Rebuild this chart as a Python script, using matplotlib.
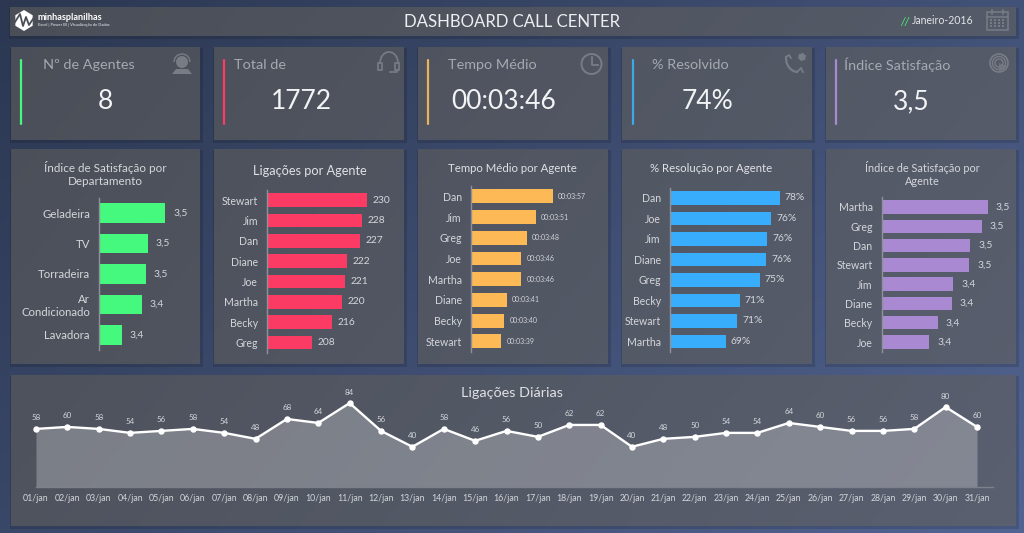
import numpy as np
import matplotlib
matplotlib.use("Agg")
import matplotlib.pyplot as plt
from matplotlib.patches import Circle, Rectangle, Polygon, Wedge, Arc

plt.rcParams['font.family'] = ['Lato', 'DejaVu Sans']

W, H = 1024, 533

# ---------- data ----------
kpi_titles = ['Nº de Agentes', 'Total de', 'Tempo Médio', '% Resolvido', 'Índice Satisfação']
kpi_values = ['8', '1772', '00:03:46', '74%', '3,5']

dept_names = ['Geladeira', 'TV', 'Torradeira', 'Ar\nCondicionado', 'Lavadora']
dept_values = [3.505, 3.462, 3.457, 3.447, 3.397]

calls_names = ['Stewart', 'Jim', 'Dan', 'Diane', 'Joe', 'Martha', 'Becky', 'Greg']
calls_values = [230, 228, 227, 222, 221, 220, 216, 208]

time_names = ['Dan', 'Jim', 'Greg', 'Joe', 'Martha', 'Diane', 'Becky', 'Stewart']
time_values = [237, 231, 228, 226, 226, 221, 220, 219]

res_names = ['Dan', 'Joe', 'Jim', 'Diane', 'Greg', 'Becky', 'Stewart', 'Martha']
res_values = [77.8, 76.4, 75.8, 75.6, 74.6, 71.4, 71.0, 69.2]

sat_names = ['Martha', 'Greg', 'Dan', 'Stewart', 'Jim', 'Diane', 'Becky', 'Joe']
sat_values = [3.515, 3.501, 3.472, 3.469, 3.429, 3.425, 3.391, 3.369]

day_labels = [f'{d:02d}/jan' for d in range(1, 32)]
day_values = [58, 60, 58, 54, 56, 58, 54, 48, 68, 64, 84, 56, 40, 58, 46, 56,
              50, 62, 62, 40, 48, 50, 54, 54, 64, 60, 56, 56, 58, 80, 60]

# ---------- colours ----------
GREEN, RED, YELLOW, BLUE, PURPLE = '#45f97f', '#fb3b63', '#fdb955', '#38adfb', '#a98ad2'
TXT = '#d4d6da'
TITLE = '#dfe1e4'
KPI_T = '#a6a9b0'
ICON = '#787c85'

# ---------- background as one painted image ----------
yy, xx = np.mgrid[0:H, 0:W]
t = np.clip((xx / W * 0.62 + yy / H * 0.38), 0, 1)[..., None]
c0, c1 = np.array([0x2c, 0x38, 0x52]), np.array([0x52, 0x64, 0x92])
img = c0 + (c1 - c0) * t ** 1.1


def panel(x0, y0, x1, y1):
    s = img[y0 + 1:y1 + 3, x0 - 1:x1 + 3]
    s[:] = s * 0.86
    u = (xx[y0:y1, x0:x1] / W * 0.7 + yy[y0:y1, x0:x1] / H * 0.3)[..., None]
    a, b = np.array([0x4a, 0x4e, 0x57]), np.array([0x5a, 0x60, 0x70])
    img[y0:y1, x0:x1] = a + (b - a) * u


panel(10, 7, 1016, 36)
kpi_x = [(11, 200), (214, 404), (418, 608), (622, 812), (826, 1016)]
for a, b in kpi_x:
    panel(a, 47, b, 140)
    panel(a, 149, b, 364)
panel(11, 375, 1016, 526)

fig = plt.figure(figsize=(W / 100, H / 100), dpi=100)
bg = fig.add_axes([0, 0, 1, 1], zorder=0)
bg.imshow(img.astype(np.uint8), extent=(0, W, H, 0), aspect='auto', interpolation='bilinear')
bg.set_xlim(0, W)
bg.set_ylim(H, 0)
bg.axis('off')

# ---------- header ----------
bg.text(512, 22, 'DASHBOARD CALL CENTER', color='#eceef0', fontsize=12.1, ha='center', va='center')
bg.text(900, 21, '//', color=GREEN, fontsize=8, ha='left', va='center', style='italic')
bg.text(912, 21, 'Janeiro-2016', color='#e2e4e7', fontsize=7.6, ha='left', va='center')

# logo
hx = 24 + 10 * np.sin(np.linspace(0, 2 * np.pi, 7))
hy = 20.5 + 10.5 * np.cos(np.linspace(0, 2 * np.pi, 7))
bg.add_patch(Polygon(np.c_[hx, hy], closed=True, fc='white', ec='none'))
bg.plot([15, 20, 23, 26, 29, 33], [22, 14, 26, 17, 25, 19], color='#4a4e58', lw=1.3)
bg.text(38, 17, 'minhasplanilhas', color='white', fontsize=6.6, fontweight='bold', ha='left', va='center')
bg.text(38, 24.6, 'Excel | Power BI | Visualização de Dados', color='#c9cbd0', fontsize=2.9,
        fontweight='bold', ha='left', va='center')

# ---------- KPI cards ----------
accent_x = [21, 224, 428, 632.5, 835.5]
accent_c = [GREEN, RED, '#e8b45a', '#3fa9e6', '#a98ad2']
title_x = [43, 234, 448, 652, 844]
value_x = [105, 301, 503.5, 707.7, 911]
for tt, vv, ax_, ac, tx, vx in zip(kpi_titles, kpi_values, accent_x, accent_c, title_x, value_x):
    bg.plot([ax_, ax_], [59.5, 124], color=ac, lw=1.6, solid_capstyle='round')
    bg.text(tx, 65, tt, color=KPI_T, fontsize=10.4, ha='left', va='center')
    bg.text(vx, 101.5, vv, color='#f2f3f5', fontsize=19, ha='center', va='center')

# agent icon
bg.add_patch(Circle((182, 62), 6, fc=ICON, ec='none'))
bg.add_patch(Arc((182, 62), 16, 16, theta1=180, theta2=360, ec=ICON, lw=1))
bg.add_patch(Polygon([(172, 74), (176, 69), (188, 69), (192, 74)], fc=ICON, ec='none'))
# headset icon
bg.add_patch(Arc((389, 63), 18, 22, theta1=180, theta2=360, ec=ICON, lw=1.2))
bg.add_patch(Rectangle((378, 63), 4, 7, fc='none', ec=ICON, lw=1.2))
bg.add_patch(Rectangle((395, 63), 4, 7, fc='none', ec=ICON, lw=1.2))
bg.plot([397, 397, 390], [70, 72, 72], color=ICON, lw=1.2)
# clock icon
bg.add_patch(Circle((591.5, 64), 10, fc='none', ec=ICON, lw=1.4))
bg.plot([591.5, 591.5, 598], [57, 65, 65], color=ICON, lw=1.3)
# phone icon
bg.add_patch(Arc((798, 58), 24, 28, theta1=90, theta2=190, ec=ICON, lw=1.6))
bg.plot([786, 789, 791], [57, 55, 58], color=ICON, lw=1.3)
bg.plot([798, 801, 803], [71, 68, 72], color=ICON, lw=1.3)
bg.add_patch(Circle((802, 57), 3.5, fc=ICON, ec=ICON, lw=1, ls=':'))
# radar icon
for r, lw in zip([9, 6.5, 4], [1.2, 1.0, 1.0]):
    bg.add_patch(Circle((999, 63), r, fc='none', ec=ICON, lw=lw))
bg.add_patch(Wedge((999, 63), 8, 20, 90, fc=ICON, ec='none', alpha=.7))
# calendar icon
bg.add_patch(Rectangle((987, 12), 21, 18, fc='none', ec=ICON, lw=1.1))
bg.plot([987, 1008], [16.5, 16.5], color=ICON, lw=1.1)
bg.plot([992, 992], [10, 14], color=ICON, lw=1.1)
bg.plot([1003, 1003], [10, 14], color=ICON, lw=1.1)
bg.scatter(np.repeat([991, 995, 999, 1003], 3), np.tile([20, 23, 26], 4), s=1.3, color=ICON, marker='s', lw=0)


# ---------- bar panels ----------
def bars(names, values, labels, color, axis_x, y0, y1, xmin, px_per_unit, gap, fs=7.6, lab_fs=7.4, ratio=.67, pad=6.5):
    width_px = 110
    ax = fig.add_axes([axis_x / W, 1 - y1 / H, width_px / W, (y1 - y0) / H], zorder=2)
    ax.patch.set_alpha(0)
    pos = np.arange(len(names))
    ax.barh(pos, values, height=ratio, color=color, edgecolor='none')
    ax.set_xlim(xmin, xmin + width_px / px_per_unit)
    ax.set_ylim(len(names) - .5, -.5)
    ax.set_yticks(pos, names)
    ax.tick_params(axis='y', length=0, pad=pad, labelsize=fs, labelcolor=TXT)
    ax.set_xticks([])
    for s in ('top', 'right', 'bottom'):
        ax.spines[s].set_visible(False)
    ax.spines['left'].set_color('#8f929a')
    ax.spines['left'].set_linewidth(1)
    for p, v, l in zip(pos, values, labels):
        ax.annotate(l, (v, p), xytext=(gap, 0), textcoords='offset pixels', va='center', ha='left',
                    color=TXT, fontsize=lab_fs, annotation_clip=False)
    return ax


def mmss(s):
    return f'00:{s // 60:02d}:{s % 60:02d}'


comma = lambda v: f'{v:.1f}'.replace('.', ',')

bars(dept_names, dept_values, [comma(v) for v in dept_values], GREEN, 99, 198, 350, 3.34, 400, 8,
     fs=8.2, ratio=.65)
bars(calls_names, calls_values, [str(v) for v in calls_values], RED, 267, 190, 352.5, 190, 2.5, 6)
bars(time_names, time_values, [mmss(v) for v in time_values], YELLOW, 470.7, 186, 351.7, 208.3, 2.87, 5,
     lab_fs=5.0)
bars(res_names, res_values, [f'{round(v)}%' for v in res_values], BLUE, 669.7, 187.7, 351.7, 60.3, 6.3, 5)
bars(sat_names, sat_values, [comma(v) for v in sat_values], PURPLE, 881.6, 197.3, 351.7, 3.25, 400, 8,
     ratio=.69)

bg.text(105, 174, 'Índice de Satisfação por\nDepartamento', color=TXT, fontsize=8.4, ha='center',
        va='center', linespacing=1.15)
bg.text(310, 171, 'Ligações por Agente', color=TITLE, fontsize=9.2, ha='center', va='center')
bg.text(512, 169, 'Tempo Médio por Agente', color=TITLE, fontsize=8.2, ha='center', va='center')
bg.text(711, 169, '% Resolução por Agente', color=TITLE, fontsize=8.2, ha='center', va='center')
bg.text(922, 174, 'Índice de Satisfação por\nAgente', color=TXT, fontsize=7.8, ha='center',
        va='center', linespacing=1.15)

# ---------- daily line ----------
bg.text(512, 393, 'Ligações Diárias', color=TITLE, fontsize=10.4, ha='center', va='center')
x0, x1 = 20.3, 992.7
yb, yt = 486.5, 397.0
ax = fig.add_axes([x0 / W, 1 - yb / H, (x1 - x0) / W, (yb - yt) / H], zorder=2)
ax.patch.set_alpha(0)
pos = np.arange(len(day_values))
ax.fill_between(pos, 0, day_values, color='#ffffff', alpha=.26, lw=0)
ax.plot(pos, day_values, color='white', lw=1.7, marker='o', ms=3.6, clip_on=False)
ax.set_xlim(-.5, 30.5)
ax.set_ylim(0, (yb - yt) / .993)
ax.set_xticks(pos, day_labels)
ax.set_yticks([])
ax.tick_params(axis='x', length=0, pad=5.5, labelsize=6.3, labelcolor=TXT)
for s in ('top', 'right', 'left'):
    ax.spines[s].set_visible(False)
ax.spines['bottom'].set_color('#7d818b')
ax.spines['bottom'].set_linewidth(1)
ax.spines['bottom'].set_bounds(0, 30.5)
for p, v in zip(pos, day_values):
    ax.annotate(str(v), (p, v), xytext=(0, 11), textcoords='offset pixels', ha='center', va='center',
                color=TXT, fontsize=5.8, annotation_clip=False)

fig.savefig('out.png', dpi=100)
